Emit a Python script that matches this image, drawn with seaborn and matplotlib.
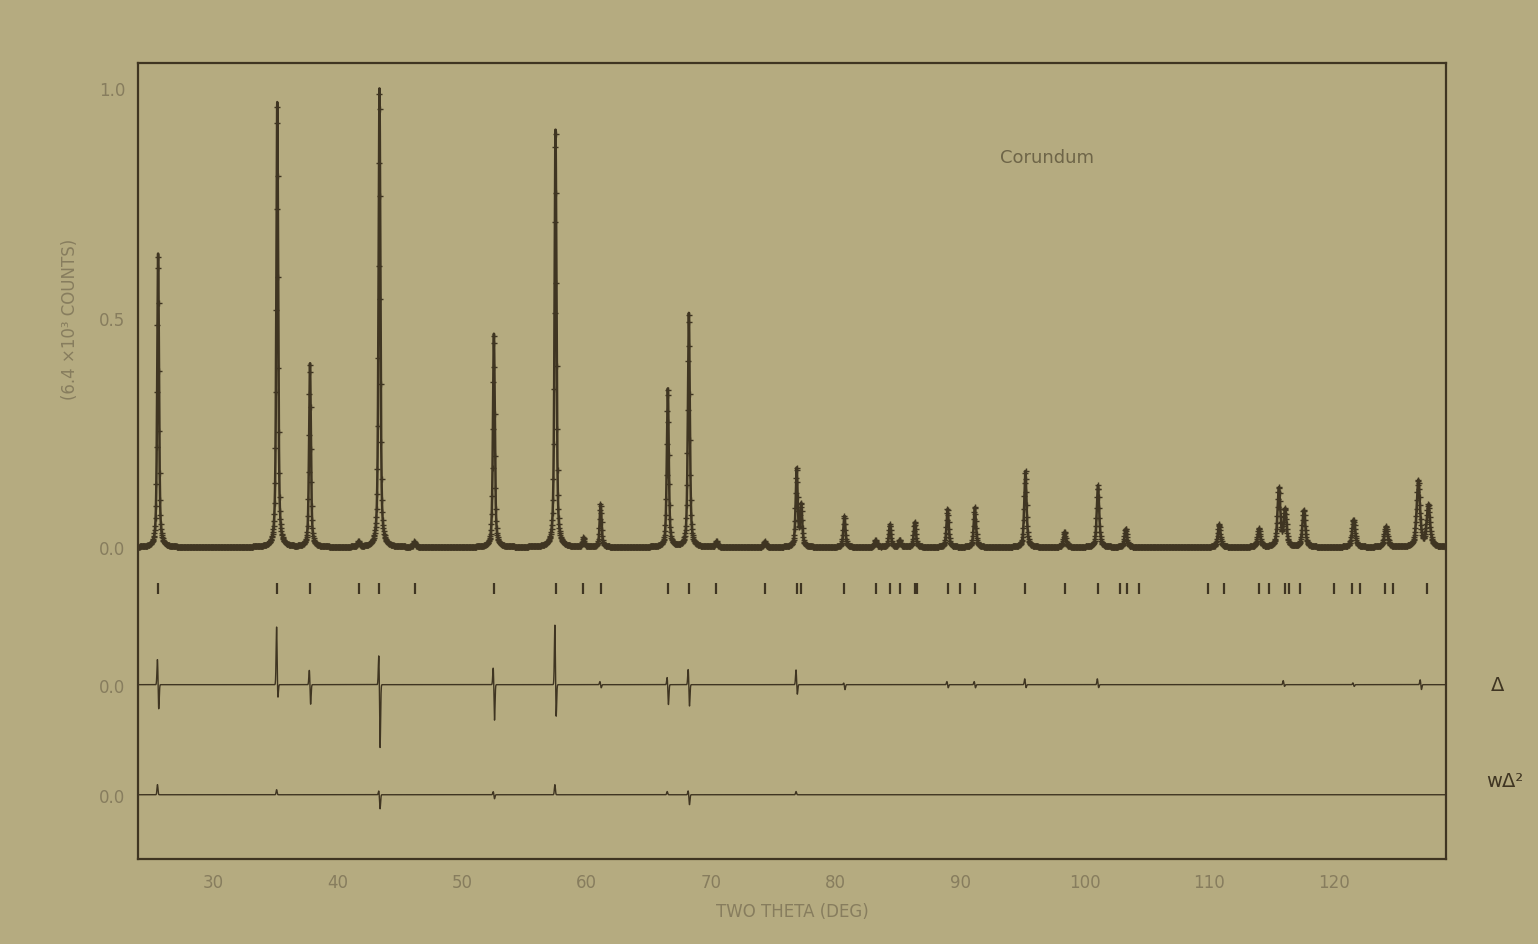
import numpy as np
import pandas as pd
import seaborn as sns
import matplotlib.pyplot as plt
from matplotlib.ticker import MultipleLocator, FixedLocator, FuncFormatter

# Corundum Rietveld plot - peak list
peak_pos = [25.58, 35.15, 37.78, 41.68, 43.36, 46.18, 52.55, 57.50, 59.74, 61.12,
            66.52, 68.21, 70.42, 74.30, 76.87, 77.23, 80.70, 83.21, 84.36, 85.14,
            86.36, 88.99, 91.18, 95.24, 98.39, 101.07, 103.30, 110.80, 114.00, 115.60,
            116.10, 117.60, 121.60, 124.20, 126.80, 127.60]
peak_height = [0.64, 0.97, 0.40, 0.012, 1.00, 0.012, 0.465, 0.91, 0.02, 0.094,
               0.345, 0.51, 0.012, 0.012, 0.17, 0.09, 0.068, 0.015, 0.05, 0.015,
               0.055, 0.083, 0.087, 0.166, 0.033, 0.135, 0.04, 0.05, 0.04, 0.127,
               0.08, 0.08, 0.06, 0.045, 0.145, 0.09]

# Bragg reflection markers
refl_pos = [25.58, 35.15, 37.78, 41.68, 43.36, 46.18, 52.55, 57.50, 59.74, 61.12,
            66.52, 68.21, 70.42, 74.30, 76.87, 77.23, 80.70, 83.21, 84.36, 85.14,
            86.36, 86.50, 88.99, 90.00, 91.18, 95.24, 98.39, 101.07, 102.80, 103.40,
            104.40, 109.90, 111.20, 114.00, 114.80, 116.10, 116.40, 117.30, 120.00,
            121.50, 122.10, 124.10, 124.80, 127.50]

# difference curve (obs - calc) lobes, in units of the main scale
diff_pos = [25.58, 35.15, 37.78, 43.36, 52.55, 57.50, 61.12, 66.52, 68.21, 76.87,
            80.70, 88.99, 91.18, 95.24, 101.07, 116.00, 121.60, 127.00]
diff_up = [0.057, 0.127, 0.033, 0.068, 0.039, 0.133, 0.007, 0.017, 0.035, 0.033,
           0.004, 0.007, 0.007, 0.013, 0.013, 0.009, 0.004, 0.011]
diff_down = [0.055, 0.031, 0.044, 0.140, 0.079, 0.074, 0.007, 0.044, 0.048, 0.022,
             0.011, 0.007, 0.007, 0.007, 0.007, 0.004, 0.004, 0.011]

# weighted squared difference spikes
wd2_pos = [25.58, 35.15, 43.36, 52.55, 57.50, 66.52, 68.21, 76.87]
wd2_up = [0.022, 0.011, 0.009, 0.007, 0.022, 0.007, 0.009, 0.007]
wd2_down = [0.0, 0.0, 0.031, 0.009, 0.0, 0.0, 0.022, 0.0]

diff_offset = -0.30
wd2_offset = -0.54
tick_row = -0.09

paper = '#b5ab80'
ink = '#3f3522'
faint = '#877d5e'


def profile(x):
    y = np.zeros_like(x)
    for p, h in zip(peak_pos, peak_height):
        th = np.radians(p / 2)
        fw = np.sqrt(0.02 * np.tan(th) ** 2 - 0.004 * np.tan(th) + 0.028)
        d = (x - p) / fw
        y += h * (0.6 / (1 + 4 * d ** 2) + 0.4 * np.exp(-4 * np.log(2) * d ** 2))
    return y


def lobes(x, pos, up, down, s=0.04):
    y = np.zeros_like(x)
    for p, u, dn in zip(pos, up, down):
        y += u * np.exp(-0.5 * ((x - p + 0.05) / s) ** 2)
        y -= dn * np.exp(-0.5 * ((x - p - 0.05) / s) ** 2)
    return y


tt = np.arange(24.0, 129.0, 0.01)
calc = profile(tt)
obs_x = np.arange(24.0, 129.0, 0.03)
obs = profile(obs_x)

df_calc = pd.DataFrame({'tt': tt, 'y': calc})
df_obs = pd.DataFrame({'tt': obs_x, 'y': obs})
df_diff = pd.DataFrame({'tt': tt, 'y': diff_offset + lobes(tt, diff_pos, diff_up, diff_down)})
df_wd2 = pd.DataFrame({'tt': tt, 'y': wd2_offset + lobes(tt, wd2_pos, wd2_up, wd2_down)})

sns.set_style('white')
plt.rcParams['font.family'] = ['DejaVu Sans']
fig = plt.figure(figsize=(15.38, 9.45), dpi=100, facecolor=paper)
ax = fig.add_axes([0.09, 0.09, 0.85, 0.842])
ax.set_facecolor(paper)

sns.lineplot(data=df_calc, x='tt', y='y', ax=ax, color=ink, lw=1.8, estimator=None, sort=False)
sns.scatterplot(data=df_obs, x='tt', y='y', ax=ax, color=ink, marker='+', s=22, linewidth=1.0)
sns.lineplot(data=df_diff, x='tt', y='y', ax=ax, color=ink, lw=1.0, estimator=None, sort=False)
sns.lineplot(data=df_wd2, x='tt', y='y', ax=ax, color=ink, lw=1.0, estimator=None, sort=False)
ax.vlines(refl_pos, tick_row - 0.012, tick_row + 0.012, color=ink, lw=1.6)

ax.set_xlim(24, 129)
ax.set_ylim(-0.68, 1.055)

for s in ax.spines.values():
    s.set_color(ink)
    s.set_linewidth(1.6)

ax.xaxis.set_major_locator(MultipleLocator(5))
ax.xaxis.set_minor_locator(MultipleLocator(1))
ax.xaxis.set_major_formatter(FuncFormatter(lambda v, p: f'{v:.0f}' if v % 10 == 0 else ''))
ax.tick_params(axis='x', which='major', direction='in', length=11, width=1.2, color=ink,
               labelsize=12, labelcolor=faint, pad=10)
ax.tick_params(axis='x', which='minor', direction='in', length=6, width=1.0, color=ink)

ax.yaxis.set_major_locator(FixedLocator([wd2_offset, diff_offset, 0.0, 0.5, 1.0]))
ax.yaxis.set_major_formatter(FuncFormatter(lambda v, p: '1.0' if v > 0.9 else ('0.5' if v > 0.4 else '0.0')))
ax.yaxis.set_minor_locator(FixedLocator(np.arange(0.1, 1.0, 0.1)))
ax.tick_params(axis='y', which='major', direction='out', length=6, width=1.2, color=ink,
               labelsize=12, labelcolor=faint)
ax.tick_params(axis='y', which='minor', direction='out', length=4, width=1.0, color=ink)

ax.set_xlabel('TWO THETA (DEG)', fontsize=12, color=faint, labelpad=8)
ax.set_ylabel('(6.4 \u00d710\u00b3 COUNTS)', fontsize=12, color=faint, labelpad=14, y=0.68)

ax.text(97, 0.85, 'Corundum', fontsize=13, color='#6e6548', ha='center', va='center')
ax.text(1.04, (diff_offset + 0.68) / 1.735, '\u0394', transform=ax.transAxes, fontsize=14,
        color=ink, ha='center', va='center')
ax.text(1.045, (wd2_offset + 0.68 + 0.03) / 1.735, 'w\u0394\u00b2', transform=ax.transAxes, fontsize=14,
        color=ink, ha='center', va='center')

fig.savefig('out.png', dpi=100, facecolor=paper)
